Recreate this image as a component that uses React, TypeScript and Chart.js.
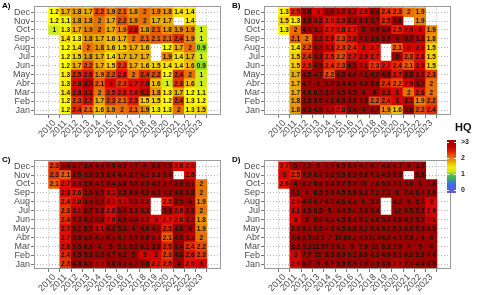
import React, { useEffect, useRef } from "react";
import { Chart, registerables } from "chart.js";

Chart.register(...registerables);

const years = [2010, 2011, 2012, 2013, 2014, 2015, 2016, 2017, 2018, 2019, 2020, 2021, 2022, 2023];
const months = ["Jan", "Feb", "Mar", "Abr", "May", "Jun", "Jul", "Aug", "Sep", "Oct", "Nov", "Dec"];
const legendLabels = ["0", "1", "2", ">3"];
const legendValues = [0, 1, 2, 3];

type Row = (number | null)[];

// rows: Jan .. Dec ; columns: 2010 .. 2023
const hqA: Row[] = [
  [null, 1.2, 2.4, 2.1, 1.6, 1.9, 2, 2.1, 1.9, 1.3, 1.3, 2, 1.3, 1.5],
  [null, 1.2, 2.3, 2.7, 1.7, 2.3, 2.1, 2.5, 1.5, 1.5, 1.2, 2.4, 1.3, 1.2],
  [null, 1.4, 2.8, 3.1, 2, 2.5, 2.6, 2.6, 3.1, 1.8, 1.3, 1.7, 1.2, 1.1],
  [null, 1.3, 2.8, 3.3, 2.1, 3, 2.3, 2.7, 2.8, 1.6, 1, 2.3, 1.6, 1],
  [null, 1.3, 2.5, 2.6, 1.9, 2.2, 2.6, 2, 2.4, 2.2, 1.2, 2.4, 2, 1],
  [null, 1.2, 1.7, 2.2, 1.7, 1.5, 2.3, 1.7, 1.6, 1.5, 1.4, 1.4, 1.6, 0.9],
  [null, 1.2, 1.5, 1.8, 1.7, 1.4, 1.7, 1.7, 1.7, null, 1.9, 1.4, 1.7, 1],
  [null, 1.2, 1.4, 2, 1.8, 1.6, 1.5, 1.7, 1.6, null, 1.2, 1.7, 2, 0.9],
  [null, 1.4, 1.3, 1.8, 1.7, 1.6, 1.7, 2, 2.1, 2.1, 2.1, 2.4, 1.9, 1],
  [1, 1.3, 1.7, 1.9, 2, 1.7, 1.9, 2.8, 1.8, 2.1, 1.8, 1.9, 1.9, 1],
  [1.2, 1.1, 1.8, 1.8, 2, 1.7, 2.2, 1.9, 2, 1.7, 1.7, null, 1.4, null],
  [1.2, 1.7, 1.8, 1.7, 2.2, 1.9, 2.1, 1.8, 2, 1.9, 1.8, 1.4, 1.4, null],
];

const hqB: Row[] = [
  [null, 1.8, 4.3, 4.5, 3.2, 2.8, 3.4, 4, 3.7, 1.9, 1.6, 3.6, 2.2, 2.4],
  [null, 1.8, 3.8, 5.5, 4.1, 4.9, 4.6, 4.3, 2.2, 2.4, 3, 3.1, 1.9, 2.2],
  [null, 1.7, 4.6, 6.5, 3.6, 4.5, 4.5, 4, 6, 3.1, 3, 2, 2.6, 2],
  [null, 1.7, 4.7, 6, 3.5, 5.4, 4.6, 4.5, 5.6, 2.4, 2.2, 2.9, 3.7, 2],
  [null, 1.7, 4.5, 4.7, 2.2, 4.8, 4.4, 4.1, 4.2, 4.6, 2.7, 3.5, 3.2, 2.3],
  [null, 1.5, 2.5, 4.5, 2.4, 2.3, 4.1, 3.1, 2.3, 2.7, 2.4, 2.1, 2.8, 1.5],
  [null, 1.5, 2.4, 3.3, 2.5, 2.2, 2.7, 2.9, 2.7, null, 6, 2.3, 2.6, 1.5],
  [null, 1.4, 2.2, 3.3, 3.1, 2.3, 2.4, 3, 2.7, null, 2.1, 3, 2.9, 1.5],
  [null, 2.1, 2, 3.2, 2.9, 2.3, 2.8, 4.1, 3.6, 3.6, 4, 3.7, 3.2, 1.8],
  [1.3, 2, 4.1, 3.3, 2.7, 2.8, 2.7, 5, 3.9, 3.4, 2.5, 2.9, 3, 1.9],
  [1.5, 1.3, 3.9, 3.2, 2.6, 2.9, 3.3, 3.3, 3.7, 2.5, 4.6, null, 1.9, null],
  [1.3, 2.5, 3.6, 3, 3.9, 3.2, 3.2, 2.8, 4.3, 2.4, 2.3, 2, 1.9, null],
];

const hqC: Row[] = [
  [null, 2.3, 4.8, 4.2, 3.2, 3.8, 4.1, 4.2, 3.8, 2.7, 2.5, 4, 2.6, 3],
  [null, 2.4, 4.5, 5.3, 3.5, 4.7, 4.2, 5, 3, 3, 2.3, 4.8, 2.6, 2.3],
  [null, 2.8, 5.6, 6.3, 4, 5, 5.1, 5.2, 6.1, 3.6, 2.5, 3.4, 2.4, 2.2],
  [null, 2.7, 5.6, 6.6, 4.2, 6.1, 4.7, 5.3, 5.6, 3.3, 2.1, 4.6, 3.2, 2],
  [null, 2.7, 5.1, 5.5, 3.1, 4.3, 5.3, 4, 4.6, 4.4, 2.5, 4.8, 4, 1.9],
  [null, 2.4, 3.3, 4.3, 3.4, 2.9, 4.6, 3.4, 3.2, 3, 2.7, 2.8, 3.2, 1.8],
  [null, 2.3, 3.1, 3.7, 3.3, 2.8, 3.4, 3.3, 3.3, null, 3.9, 2.9, 3.3, 2],
  [null, 2.4, 2.8, 3.9, 3.5, 3.1, 3.1, 3.3, 3.2, null, 2.5, 3.5, 4, 1.9],
  [null, 2.8, 2.6, 3.5, 3.5, 3.1, 3.5, 3.9, 4.2, 4.2, 4.2, 4.8, 3.8, 2],
  [2.1, 2.7, 3.3, 3.8, 4.1, 3.4, 3.8, 5.5, 3.5, 4.1, 3.7, 3.9, 3.7, 2],
  [2.3, 2.1, 3.6, 3.5, 3.9, 3.4, 4.4, 3.7, 4.1, 3.3, 3.4, null, 2.8, null],
  [2.3, 3.4, 3.7, 3.4, 4.4, 3.9, 4.2, 3.7, 4, 3.6, 3.5, 2.8, 2.8, null],
];

const hqD: Row[] = [
  [null, 2.9, 8.7, 9, 6.3, 5.5, 6.9, 7.9, 7.3, 3.8, 3.2, 7.1, 4.4, 4.8],
  [null, 3, 7.7, 11, 8.3, 9.9, 9.2, 8.6, 4.3, 4.9, 6.1, 6.3, 3.8, 4.4],
  [null, 3.5, 9.3, 12.9, 7.2, 9.1, 9, 7.9, 12, 6.3, 5.9, 4, 5, 4],
  [null, 3.4, 9.5, 12.1, 7, 10.8, 9.2, 8.9, 11.2, 4.8, 4.3, 5.9, 7.4, 4],
  [null, 3.3, 9.1, 9.5, 4.3, 9.5, 8.8, 8.2, 8.4, 9.1, 5.3, 6.5, 6.3, 4.5],
  [null, 3, 5, 8.9, 4.8, 4.5, 8.2, 6.1, 4.6, 5.4, 4.8, 4.3, 5.5, 3.1],
  [null, 3.1, 4.8, 6.5, 5, 4.4, 5.4, 5.8, 5.4, null, 12, 4.5, 5.2, 2.9],
  [null, 2.9, 4.4, 6.7, 6.2, 4.6, 4.9, 6, 5.2, null, 4.2, 6, 5.7, 3],
  [null, 4.1, 4, 6.5, 5.8, 4.5, 5.6, 8.2, 7.2, 7.1, 8, 7.4, 6.4, 3.6],
  [2.6, 4, 8.2, 6.6, 5.4, 5.2, 5.5, 10, 7.8, 6.8, 5.1, 5.8, 6, 3.8],
  [3, 2.5, 7.9, 6.4, 5.2, 5.8, 6.5, 6.6, 7.3, 4.9, 9.3, null, 3.8, null],
  [2.7, 5, 7.2, 6, 7.9, 6.5, 6.4, 6.7, 6.7, 4.8, 4.7, 4, 3.9, null],
];

const cellStops: [number, number[]][] = [
  [0, [106, 90, 205]],
  [0.4, [40, 90, 255]],
  [0.75, [60, 200, 40]],
  [1.0, [204, 234, 30]],
  [1.2, [255, 255, 0]],
  [1.45, [248, 218, 0]],
  [1.75, [232, 160, 0]],
  [2.0, [232, 112, 0]],
  [2.3, [228, 56, 0]],
  [2.6, [226, 18, 0]],
  [3.05, [210, 0, 0]],
  [3.2, [185, 0, 0]],
  [3.4, [155, 0, 0]],
  [100, [152, 0, 0]],
];

function hqColor(v: number): string {
  for (let i = 1; i < cellStops.length; i++) {
    const [v1, c1] = cellStops[i];
    if (v <= v1) {
      const [v0, c0] = cellStops[i - 1];
      const t = Math.max(0, (v - v0) / (v1 - v0));
      const c = c0.map((a, k) => Math.round(a + (c1[k] - a) * t));
      return `rgb(${c[0]},${c[1]},${c[2]})`;
    }
  }
  return "rgb(152,0,0)";
}

const legendGradient =
  "linear-gradient(to top, #6e5ad0 0%, #3a6af5 15%, #40c040 32%, #c8e628 40%, #f2ee00 48%, #f0b000 58%, #ea7400 66%, #e22000 78%, #c00000 88%, #960000 100%)";

const cellText = {
  id: "cellText",
  afterDatasetsDraw(chart: any) {
    const ctx = chart.ctx;
    ctx.save();
    ctx.font = 'bold 6.5px "Liberation Sans", Arial, sans-serif';
    ctx.fillStyle = "#111";
    ctx.textAlign = "center";
    ctx.textBaseline = "middle";
    chart.data.datasets.forEach((ds: any, di: number) => {
      const meta = chart.getDatasetMeta(di);
      meta.data.forEach((el: any, i: number) => {
        const raw = ds.data[i];
        if (!raw) return;
        const p = el.getProps(["x", "y", "base"], true);
        ctx.fillText(String(raw.v), p.x, (p.y + p.base) / 2 + 0.5);
      });
    });
    ctx.restore();
  },
};

const frame = {
  id: "frame",
  afterDraw(chart: any) {
    const { left, top, right, bottom } = chart.chartArea;
    const ctx = chart.ctx;
    ctx.save();
    ctx.strokeStyle = "#9a9a9a";
    ctx.lineWidth = 1;
    ctx.strokeRect(Math.round(left) + 0.5, Math.round(top) + 0.5, Math.round(right - left) - 1, Math.round(bottom - top) - 1);
    ctx.restore();
  },
};

const tickFont = { family: '"Liberation Sans", Arial, sans-serif', size: 9 };

function HeatPanel(props: { data: Row[]; left: number; top: number; width: number; height: number; tag: string }) {
  const ref = useRef<HTMLCanvasElement>(null);
  const { data, left, top, width, height, tag } = props;
  useEffect(() => {
    if (!ref.current) return;
    const datasets = months.map((m, mi) => ({
      label: m,
      data: years
        .map((yr, yi) => ({ yr, v: data[mi][yi] }))
        .filter((d) => d.v !== null)
        .map((d) => ({ x: d.yr, y: [mi - 0.5, mi + 0.5], v: d.v })),
      backgroundColor: (c: any) => (c.raw ? hqColor(c.raw.v) : "rgba(0,0,0,0)"),
      borderWidth: 0,
      grouped: false,
      barPercentage: 1,
      categoryPercentage: 1,
    }));
    const chart = new Chart(ref.current, {
      type: "bar",
      data: { datasets } as any,
      options: {
        animation: false,
        responsive: false,
        devicePixelRatio: 1,
        layout: { padding: { top: 5, right: width - 221, left: 0, bottom: 0 } },
        plugins: { legend: { display: false }, tooltip: { enabled: false } },
        scales: {
          x: {
            type: "linear",
            min: 2008.8,
            max: 2024.15,
            afterBuildTicks: (s: any) => {
              s.ticks = years.map((v) => ({ value: v }));
            },
            afterFit: (s: any) => {
              s.height = height - 115;
            },
            ticks: {
              autoSkip: false,
              minRotation: 45,
              maxRotation: 45,
              padding: 0,
              color: "#4d4d4d",
              font: tickFont,
              callback: (v: any) => String(v),
            },
            grid: { color: "#b5b5b5", lineWidth: 1, tickLength: 3, tickColor: "#777", tickBorderDash: [] },
            border: { display: false, dash: [1, 2] },
          },
          y: {
            type: "linear",
            min: -0.55,
            max: 11.65,
            afterBuildTicks: (s: any) => {
              s.ticks = months.map((_, i) => ({ value: i }));
            },
            afterFit: (s: any) => {
              s.width = 34;
            },
            ticks: {
              autoSkip: false,
              padding: 1,
              color: "#4d4d4d",
              font: tickFont,
              callback: (v: any) => months[v],
            },
            grid: { color: "#b5b5b5", lineWidth: 1, tickLength: 3, tickColor: "#777", tickBorderDash: [] },
            border: { display: false, dash: [1, 2] },
          },
        },
      } as any,
      plugins: [cellText, frame],
    });
    return () => chart.destroy();
  }, [data, width, height]);
  return (
    <>
      <canvas
        ref={ref}
        width={width}
        height={height}
        style={{ position: "absolute", left, top, width, height }}
      />
      <div
        style={{
          position: "absolute",
          left: left + 2,
          top: top + 2,
          font: 'bold 8px "Liberation Sans", Arial, sans-serif',
          lineHeight: "8px",
          color: "#000",
        }}
      >
        {tag}
      </div>
    </>
  );
}

function Legend() {
  const barTop = 140;
  const barBottom = 193;
  const px = (v: number) => 190 - v * 16;
  return (
    <>
      <div
        style={{
          position: "absolute",
          left: 455,
          top: 122,
          font: 'bold 11px "Liberation Sans", Arial, sans-serif',
          lineHeight: "11px",
          color: "#111",
        }}
      >
        HQ
      </div>
      <div
        style={{
          position: "absolute",
          left: 447,
          top: barTop,
          width: 9,
          height: barBottom - barTop,
          background: legendGradient,
        }}
      />
      {legendValues.map((v, i) => (
        <React.Fragment key={i}>
          <div style={{ position: "absolute", left: 447, top: px(v), width: 2, height: 1, background: "#fff" }} />
          <div style={{ position: "absolute", left: 454, top: px(v), width: 2, height: 1, background: "#fff" }} />
          <div
            style={{
              position: "absolute",
              left: 461,
              top: px(v) - 4,
              font: 'bold 7px "Liberation Sans", Arial, sans-serif',
              lineHeight: "8px",
              color: "#222",
            }}
          >
            {legendLabels[i]}
          </div>
        </React.Fragment>
      ))}
    </>
  );
}

export default function App() {
  return (
    <div
      style={{
        position: "absolute",
        left: 0,
        top: 0,
        width: 480,
        height: 295,
        overflow: "hidden",
        background: "#fff",
      }}
    >
      <HeatPanel data={hqA} left={0} top={0} width={230} height={145} tag="A)" />
      <HeatPanel data={hqB} left={230} top={0} width={230} height={145} tag="B)" />
      <HeatPanel data={hqC} left={0} top={154} width={230} height={141} tag="C)" />
      <HeatPanel data={hqD} left={230} top={154} width={230} height={141} tag="D)" />
      <Legend />
    </div>
  );
}
